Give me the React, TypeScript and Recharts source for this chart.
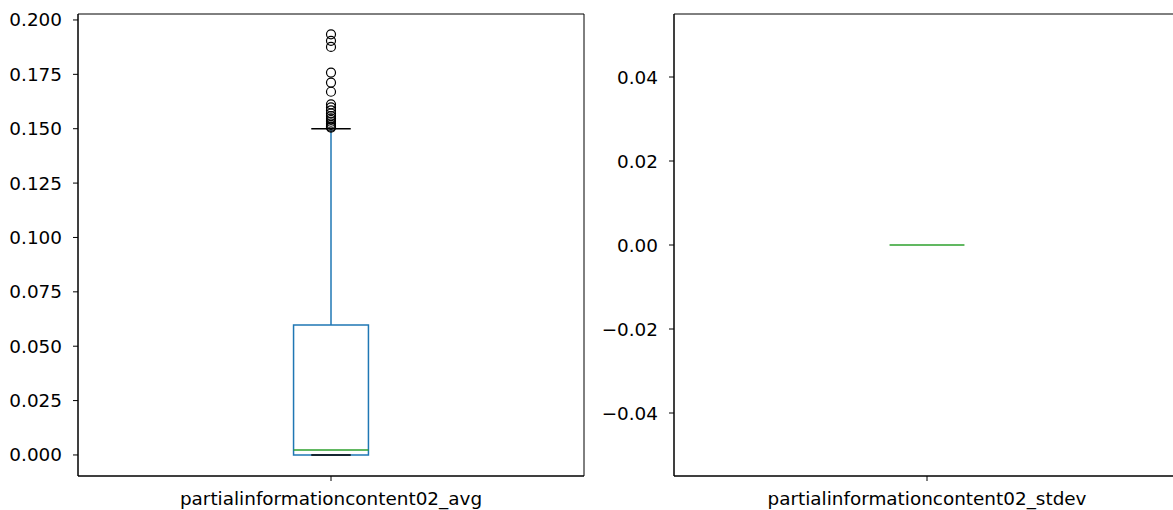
import React from "react";
import {
  ComposedChart,
  Scatter,
  XAxis,
  YAxis,
  ReferenceArea,
  ReferenceLine,
} from "recharts";

// column names
const categories = ["partialinformationcontent02_avg", "partialinformationcontent02_stdev"];

// box stats: [lower whisker, q1, median, q3, upper whisker]
const avgBox = [0, 0, 0.0023, 0.0598, 0.15];
const stdevBox = [0, 0, 0, 0, 0];

// fliers above the upper whisker
const avgOutliers = [
  0.1505, 0.151, 0.1517, 0.1524, 0.1532, 0.154, 0.1548, 0.1558, 0.157, 0.1584, 0.1598, 0.1612,
  0.167, 0.1712, 0.1758, 0.1876, 0.1904, 0.1934,
];

const avgTicks = [0, 0.025, 0.05, 0.075, 0.1, 0.125, 0.15, 0.175, 0.2];
const stdevTicks = [-0.04, -0.02, 0, 0.02, 0.04];

const BLUE = "#1f77b4";
const GREEN = "#2ca02c";
const FONT = "DejaVu Sans";
const tickStyle = { fill: "#000", fontSize: 18.4, fontFamily: FONT };

const fmtAvg = (v: number) => v.toFixed(3);
const fmtStdev = (v: number) => {
  const s = Math.abs(v) < 1e-9 ? "0.00" : v.toFixed(2);
  return s.replace("-", "\u2212");
};

const Flier = (p: any) => (
  <circle cx={p.cx} cy={p.cy} r={4.5} fill="none" stroke="#000" strokeWidth={1.2} />
);

interface PanelProps {
  name: string;
  box: number[];
  outliers: number[];
  domain: [number, number];
  ticks: number[];
  fmt: (v: number) => string;
  width: number;
}

function BoxPanel({ name, box, outliers, domain, ticks, fmt, width }: PanelProps) {
  const [lo, q1, med, q3, hi] = box;
  const fliers = outliers.map((v) => ({ x: 1, y: v }));
  const flat = hi === lo;
  const half = 0.074;
  const capHalf = 0.039;
  return (
    <ComposedChart
      width={width}
      height={510}
      margin={{ top: 14, right: width - 584, bottom: 0, left: 0 }}
      data={fliers}
    >
      <XAxis
        xAxisId="b"
        type="number"
        dataKey="x"
        domain={[0.5, 1.5]}
        ticks={[1]}
        tickFormatter={() => name}
        height={34}
        tickSize={5}
        tickMargin={11}
        stroke="#000"
        tick={tickStyle}
        allowDataOverflow
      />
      <YAxis
        yAxisId="l"
        type="number"
        domain={domain}
        ticks={ticks}
        interval={0}
        tickFormatter={fmt}
        width={78}
        tickSize={5}
        tickMargin={11}
        stroke="#000"
        tick={tickStyle}
        allowDataOverflow
      />
      {/* frame round the axes */}
      <ReferenceArea xAxisId="b" yAxisId="l" x1={0.5} x2={1.5} y1={domain[0]} y2={domain[1]} fill="none" fillOpacity={0} stroke="#000" strokeWidth={1} />
      {!flat && (
        <ReferenceArea xAxisId="b" yAxisId="l" x1={1 - half} x2={1 + half} y1={q1} y2={q3} fill="none" stroke={BLUE} strokeWidth={1.5} fillOpacity={0} />
      )}
      {!flat && <ReferenceLine xAxisId="b" yAxisId="l" segment={[{ x: 1, y: q3 }, { x: 1, y: hi }]} stroke={BLUE} strokeWidth={1.5} />}
      {!flat && <ReferenceLine xAxisId="b" yAxisId="l" segment={[{ x: 1 - capHalf, y: hi }, { x: 1 + capHalf, y: hi }]} stroke="#000" strokeWidth={1.5} />}
      {!flat && <ReferenceLine xAxisId="b" yAxisId="l" segment={[{ x: 1 - capHalf, y: lo }, { x: 1 + capHalf, y: lo }]} stroke="#000" strokeWidth={1.5} />}
      <ReferenceLine xAxisId="b" yAxisId="l" segment={[{ x: 1 - half, y: med }, { x: 1 + half, y: med }]} stroke={GREEN} strokeWidth={1.5} />
      <Scatter xAxisId="b" yAxisId="l" dataKey="y" data={fliers} shape={Flier} isAnimationActive={false} />
    </ComposedChart>
  );
}

export default function App() {
  return (
    <div
      style={{
        position: "absolute",
        left: 0,
        top: 0,
        width: 1173,
        height: 510,
        overflow: "hidden",
        background: "#fff",
      }}
    >
      <div style={{ position: "absolute", left: 0, top: 0 }}>
        <BoxPanel
          name={categories[0]}
          box={avgBox}
          outliers={avgOutliers}
          domain={[-0.00967, 0.20274]}
          ticks={avgTicks}
          fmt={fmtAvg}
          width={590}
        />
      </div>
      <div style={{ position: "absolute", left: 596, top: 0 }}>
        <BoxPanel
          name={categories[1]}
          box={stdevBox}
          outliers={[]}
          domain={[-0.055, 0.055]}
          ticks={stdevTicks}
          fmt={fmtStdev}
          width={600}
        />
      </div>
    </div>
  );
}
